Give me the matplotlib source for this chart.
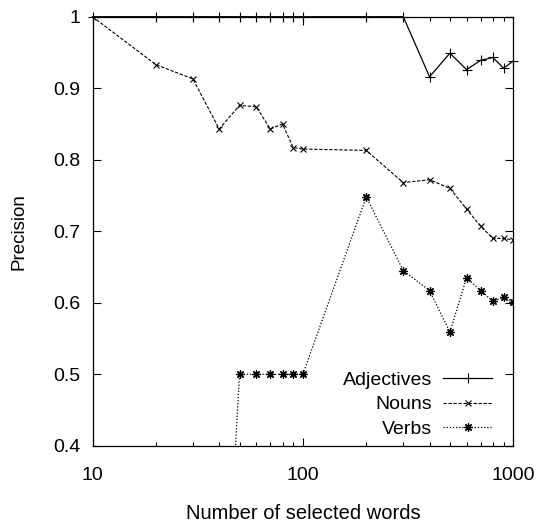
import matplotlib
matplotlib.use("Agg")
import matplotlib.pyplot as plt
from matplotlib.ticker import FixedLocator, LogLocator, NullFormatter

plt.rcParams['font.family'] = ['Liberation Sans', 'DejaVu Sans']

# data
adj_x = [10, 20, 30, 40, 50, 60, 70, 80, 90, 100, 200, 300, 400, 500, 600, 700, 800, 900, 1000]
adj_y = [1, 1, 1, 1, 1, 1, 1, 1, 1, 1, 1, 1, 0.916, 0.949, 0.926, 0.939, 0.943, 0.928, 0.938]

noun_x = [10, 20, 30, 40, 50, 60, 70, 80, 90, 100, 200, 300, 400, 500, 600, 700, 800, 900, 1000]
noun_y = [1.0, 0.933, 0.913, 0.843, 0.876, 0.874, 0.843, 0.850, 0.817, 0.815, 0.813,
          0.768, 0.772, 0.760, 0.731, 0.707, 0.690, 0.690, 0.688]

verb_x = [10, 20, 30, 40, 50, 60, 70, 80, 90, 100, 200, 300, 400, 500, 600, 700, 800, 900, 1000]
verb_y = [0, 0, 0, 0, 0.5, 0.5, 0.5, 0.5, 0.5, 0.5, 0.748, 0.645, 0.617, 0.559,
          0.635, 0.617, 0.602, 0.608, 0.601]

y_ticks = [0.4, 0.5, 0.6, 0.7, 0.8, 0.9, 1]
y_labels = ["0.4", "0.5", "0.6", "0.7", "0.8", "0.9", "1"]
x_ticks = [10, 100, 1000]
x_labels = ["10", "100", "1000"]

fig = plt.figure(figsize=(5.38, 5.22), dpi=100)
ax = fig.add_axes([0.172, 0.146, 0.782, 0.822])

ax.plot(adj_x, adj_y, color="black", lw=0.9, ls="-", marker="+", ms=7, mew=0.8,
        label="Adjectives", clip_on=False)
ax.plot(noun_x, noun_y, color="black", lw=0.8, ls=(0, (3, 1.5)), marker="x", ms=5, mew=0.8,
        label="Nouns")
ax.plot(verb_x, verb_y, color="black", lw=0.9, ls=(0, (1, 1.5)), marker=(8, 2, 0), ms=6, mew=0.9,
        label="Verbs")

ax.set_xscale("log")
ax.set_xlim(10, 1000)
ax.set_ylim(0.4, 1)
ax.xaxis.set_major_locator(FixedLocator(x_ticks))
ax.set_xticklabels(x_labels)
ax.xaxis.set_minor_locator(LogLocator(base=10, subs=range(2, 10)))
ax.xaxis.set_minor_formatter(NullFormatter())
ax.set_yticks(y_ticks)
ax.set_yticklabels(y_labels)

ax.tick_params(which="both", direction="in", top=True, right=True, labelsize=14, width=0.8)
ax.tick_params(which="major", length=6, pad=9)
ax.tick_params(which="minor", length=3)
ax.tick_params(axis="x", pad=15)
for s in ax.spines.values():
    s.set_linewidth(0.9)

ax.set_xlabel("Number of selected words", fontsize=14.5, labelpad=15)
ax.set_ylabel("Precision", fontsize=13.5, labelpad=18)

ax.legend(loc="lower right", bbox_to_anchor=(0.968, 0.0), frameon=False, markerfirst=False,
          numpoints=1, fontsize=14, handlelength=2.5, handletextpad=0.57,
          labelspacing=0.36, borderaxespad=0.0)

fig.savefig("out.png", dpi=100)
